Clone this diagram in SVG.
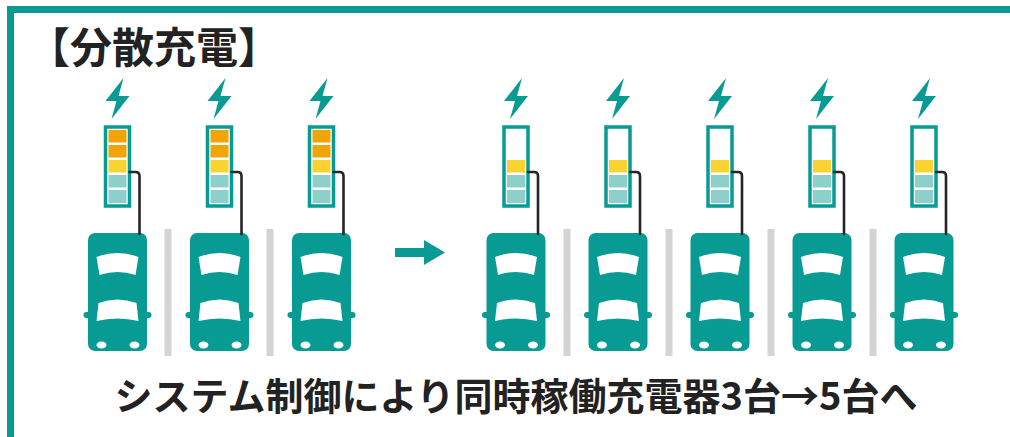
<svg xmlns="http://www.w3.org/2000/svg" xmlns:xlink="http://www.w3.org/1999/xlink" width="1010" height="437" viewBox="0 0 1010 437">
  <style>
    .teal { fill: #079b94; }
    .win { fill: #ffffff; }
    .lot { fill: #d4d4d4; }
    .box { fill: #ffffff; stroke: #079b94; stroke-width: 3.5; }
    .lv-orange { fill: #f1a406; }
    .lv-yellow { fill: #f9d431; }
    .lv-mint { fill: #8dd0cb; }
    .cable { fill: none; stroke: #262626; stroke-width: 2.6; stroke-linecap: round; }
    .label { font-family: "Noto Sans CJK JP", "Noto Sans", sans-serif; font-weight: 700; fill: #222222; }
  </style>
  <defs>
    <!-- top-down car, centred on x = 0 -->
    <g id="car">
      <rect class="teal" x="-34" y="312" width="68" height="6" rx="3"/>
      <rect class="teal" x="-29.5" y="233" width="59" height="118" rx="7"/>
      <path class="win" d="M-21 257 Q0 249 21 257 L18 275 Q0 269 -18 275 Z"/>
      <path class="win" d="M-19 303 Q0 296 19 303 L21 321 Q0 316 -21 321 Z"/>
      <ellipse class="win" cx="-16" cy="345" rx="5" ry="3.5"/>
      <ellipse class="win" cx="17" cy="345" rx="5" ry="3.5"/>
    </g>
    <!-- charger post: bolt and battery frame -->
    <g id="charger">
      <polygon class="teal" points="6,78 -12,101 -1,101 -6,119 12,96 1,96"/>
      <rect class="box" x="-12" y="127" width="24" height="79"/>
    </g>
    <!-- battery levels: fully loaded -->
    <g id="levels-high">
      <rect class="lv-orange" x="-9" y="130" width="18" height="12.5"/>
      <rect class="lv-orange" x="-9" y="145" width="18" height="12.5"/>
      <rect class="lv-yellow" x="-9" y="160" width="18" height="12.5"/>
      <rect class="lv-mint" x="-9" y="175" width="18" height="12.5"/>
      <rect class="lv-mint" x="-9" y="190" width="18" height="13"/>
    </g>
    <!-- battery levels: reduced output -->
    <g id="levels-low">
      <rect class="lv-yellow" x="-9" y="160" width="18" height="12.5"/>
      <rect class="lv-mint" x="-9" y="175" width="18" height="12.5"/>
      <rect class="lv-mint" x="-9" y="190" width="18" height="13"/>
    </g>
  </defs>

  <rect width="1010" height="437" fill="#ffffff"/>

  <!-- frame -->
  <g id="frame">
    <rect class="teal" x="7" y="6" width="1003" height="7"/>
    <rect class="teal" x="7" y="6" width="7" height="431"/>
  </g>

  <g id="title">
    <text class="label" x="28" y="63" font-size="42">【分散充電】</text>
  </g>

  <!-- parking lot dividers -->
  <g id="dividers">
    <rect class="lot" x="164.5" y="229" width="7" height="127"/>
    <rect class="lot" x="266.5" y="229" width="7" height="127"/>
    <rect class="lot" x="563.5" y="229" width="7" height="127"/>
    <rect class="lot" x="665.5" y="229" width="7" height="127"/>
    <rect class="lot" x="767.5" y="229" width="7" height="127"/>
    <rect class="lot" x="869.5" y="229" width="7" height="127"/>
  </g>

  <!-- before: three stations -->
  <g id="before-1" transform="translate(117.5 0)"><use xlink:href="#charger"/><use xlink:href="#levels-high"/><use xlink:href="#car"/></g>
  <g id="before-2" transform="translate(219.5 0)"><use xlink:href="#charger"/><use xlink:href="#levels-high"/><use xlink:href="#car"/></g>
  <g id="before-3" transform="translate(321.5 0)"><use xlink:href="#charger"/><use xlink:href="#levels-high"/><use xlink:href="#car"/></g>

  <g id="arrow">
    <polygon class="teal" points="395,248 424,248 424,240 445,252.5 424,265 424,257 395,257"/>
  </g>

  <!-- after: five stations -->
  <g id="after-1" transform="translate(516 0)"><use xlink:href="#charger"/><use xlink:href="#levels-low"/><use xlink:href="#car"/></g>
  <g id="after-2" transform="translate(618 0)"><use xlink:href="#charger"/><use xlink:href="#levels-low"/><use xlink:href="#car"/></g>
  <g id="after-3" transform="translate(720 0)"><use xlink:href="#charger"/><use xlink:href="#levels-low"/><use xlink:href="#car"/></g>
  <g id="after-4" transform="translate(822 0)"><use xlink:href="#charger"/><use xlink:href="#levels-low"/><use xlink:href="#car"/></g>
  <g id="after-5" transform="translate(924 0)"><use xlink:href="#charger"/><use xlink:href="#levels-low"/><use xlink:href="#car"/></g>

  <!-- charging cables -->
  <g id="connectors">
    <path class="cable" d="M129.5 172 H135.5 Q139.5 172 139.5 176 V234"/>
    <path class="cable" d="M231.5 172 H237.5 Q241.5 172 241.5 176 V234"/>
    <path class="cable" d="M333.5 172 H339.5 Q343.5 172 343.5 176 V234"/>
    <path class="cable" d="M528 172 H534 Q538 172 538 176 V234"/>
    <path class="cable" d="M630 172 H636 Q640 172 640 176 V234"/>
    <path class="cable" d="M732 172 H738 Q742 172 742 176 V234"/>
    <path class="cable" d="M834 172 H840 Q844 172 844 176 V234"/>
    <path class="cable" d="M936 172 H942 Q946 172 946 176 V234"/>
  </g>

  <g id="caption">
    <text class="label" x="516" y="410" font-size="38" text-anchor="middle">システム制御により同時稼働充電器3台→5台へ</text>
  </g>
</svg>
